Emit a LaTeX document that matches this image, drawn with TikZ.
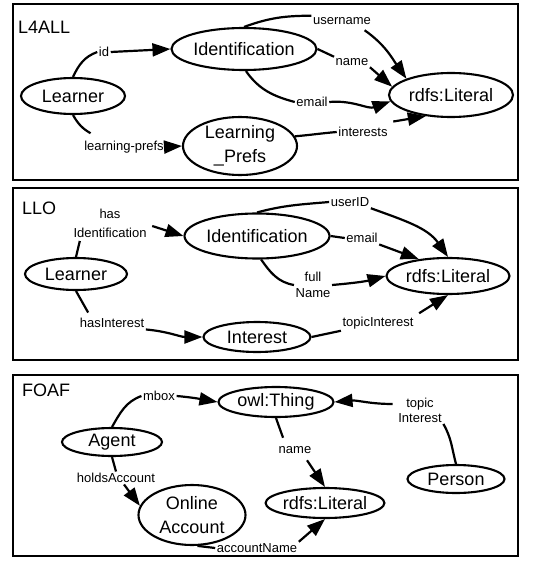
\documentclass[tikz,border=0pt]{standalone}
\usepackage{fontspec}
\setmainfont{Liberation Sans}
\usetikzlibrary{shapes.geometric,arrows.meta,calc}
\begin{document}
\begin{tikzpicture}[x=1pt,y=-1pt,
  ent/.style={ellipse, draw, line width=2.1pt, inner sep=0pt, font=\fontsize{18}{24}\selectfont, align=center},
  lab/.style={inner sep=1.5pt, font=\fontsize{13}{16}\selectfont, align=center},
  ttl/.style={inner sep=0pt, anchor=west, font=\fontsize{18}{22}\selectfont},
  panel/.style={draw, line width=1.8pt},
  con/.style={line width=2.2pt},
  arr/.style={con, -{Triangle[length=18pt,width=13pt]}},
]
\useasboundingbox (0,0) rectangle (542,567);
% panels
\draw[panel] (13,4) rectangle (518,180);
\draw[panel] (13,188) rectangle (518,360);
\draw[panel] (13,375) rectangle (518,556);

% ---------- L4ALL ----------
\node[ttl] (t1) at (18,27) {L4ALL};
\node[ent, minimum width=104pt, minimum height=36pt] (Le1) at (73,96) {Learner};
\node[ent, minimum width=145pt, minimum height=42pt] (Id1) at (244,49) {Identification};
\node[ent, minimum width=124pt, minimum height=44pt] (Li1) at (451,95) {rdfs:Literal};
\node[ent, minimum width=114pt, minimum height=58pt] (LP1) at (240,146) {Learning\\\_Prefs};
\node[lab] (id1) at (104,52) {id};
\node[lab] (un1) at (342,21) {username};
\node[lab] (nm1) at (352,62) {name};
\node[lab] (em1) at (312,102) {email};
\node[lab] (lp1) at (124,147) {learning-prefs};
\node[lab] (in1) at (363,132) {interests};
\draw[con] (Le1.north) to[out=65,in=200] (id1.west);
\draw[arr] (id1.east) -- (Id1.west);
\draw[con] (Id1.north) to[out=20,in=180] (un1.north west);
\draw[arr] ($(un1.south east)+(-8,4)$) to[out=-35,in=125] (Li1.north west);
\draw[con] (Id1.east) -- (nm1.north west);
\draw[arr] (nm1.south east) -- (Li1.172);
\draw[con] (Id1.-85) to[out=-55,in=165] (em1.west);
\draw[arr] (em1.east) to[out=5,in=-160] (Li1.186);
\draw[con] (Le1.south) to[out=-60,in=150] ($(lp1.north west)+(8,-6)$);
\draw[arr] (lp1.east) -- (LP1.west);
\draw[con] (LP1.10) to[out=5,in=185] (in1.west);
\draw[arr] ($(in1.north east)+(4,-4)$) -- (Li1.220);

% ---------- LLO ----------
\node[ttl] (t2) at (22,208) {LLO};
\node[ent, minimum width=102pt, minimum height=32pt] (Le2) at (76,274) {Learner};
\node[ent, minimum width=145pt, minimum height=45pt] (Id2) at (257,236) {Identification};
\node[ent, minimum width=123pt, minimum height=36pt] (Li2) at (448,276) {rdfs:Literal};
\node[ent, minimum width=107pt, minimum height=30pt] (In2) at (257,337) {Interest};
\node[lab, font=\fontsize{13}{19}\selectfont] (hi2a) at (110,223) {has\\Identification};
\node[lab] (ui2) at (350,202) {userID};
\node[lab] (em2) at (362,238) {email};
\node[lab] (fn2) at (313,285) {full\\Name};
\node[lab] (hI2) at (112,323) {hasInterest};
\node[lab] (ti2) at (378,323) {topicInterest};
\draw[con] (Le2.north) -- ($(hi2a.south west)+(8,2)$);
\draw[arr] ($(hi2a.east)+(4,3)$) -- (Id2.west);
\draw[con] (Id2.north) to[out=15,in=185] (ui2.west);
\draw[arr] (ui2.south east) to[out=-20,in=125] (Li2.north);
\draw[con] (Id2.east) -- (em2.west);
\draw[arr] (em2.south east) -- (Li2.150);
\draw[con] (Id2.-80) to[out=-55,in=170] (fn2.west);
\draw[arr] (fn2.east) to[out=5,in=195] (Li2.west);
\draw[con] (Le2.south) -- ($(hI2.north west)+(10,-4)$);
\draw[arr] (hI2.south east) to[out=-5,in=180] (In2.west);
\draw[con] (In2.east) -- (ti2.south west);
\draw[arr] ($(ti2.north east)+(4,-2)$) -- (Li2.south);

% ---------- FOAF ----------
\node[ttl] (t3) at (22,390) {FOAF};
\node[ent, minimum width=115pt, minimum height=30pt] (Ow3) at (276,402) {owl:Thing};
\node[ent, minimum width=100pt, minimum height=28pt] (Ag3) at (112,442) {Agent};
\node[ent, minimum width=97pt, minimum height=28pt] (Pe3) at (456,479) {Person};
\node[ent, minimum width=114pt, minimum height=30pt] (Li3) at (325,503) {rdfs:Literal};
\node[ent, minimum width=107pt, minimum height=60pt] (OA3) at (192,515) {Online\\Account};
\node[lab] (mb3) at (159,396) {mbox};
\node[lab, font=\fontsize{13}{15}\selectfont] (ti3) at (420,410) {topic\\Interest};
\node[lab] (nm3) at (295,450) {name};
\node[lab] (ha3) at (116,478) {holdsAccount};
\node[lab] (an3) at (257,548) {accountName};
\draw[con] (Ag3.north) to[out=60,in=200] (mb3.west);
\draw[arr] (mb3.east) to[out=-5,in=170] (Ow3.west);
\draw[con] (Pe3.north) to[out=105,in=-60] (ti3.south east);
\draw[arr] ($(ti3.west)+(-4,-6)$) to[out=180,in=5] (Ow3.east);
\draw[con] (Ow3.south) -- ($(nm3.north west)+(6,-7)$);
\draw[arr] ($(nm3.south)+(12,5)$) -- (Li3.north);
\draw[con] (Ag3.south) -- (ha3.north);
\draw[arr] ($(ha3.south)+(8,0)$) -- (OA3.170);
\draw[con] (OA3.-80) -- (an3.west);
\draw[arr] (an3.north east) -- (Li3.south);
\end{tikzpicture}
\end{document}
